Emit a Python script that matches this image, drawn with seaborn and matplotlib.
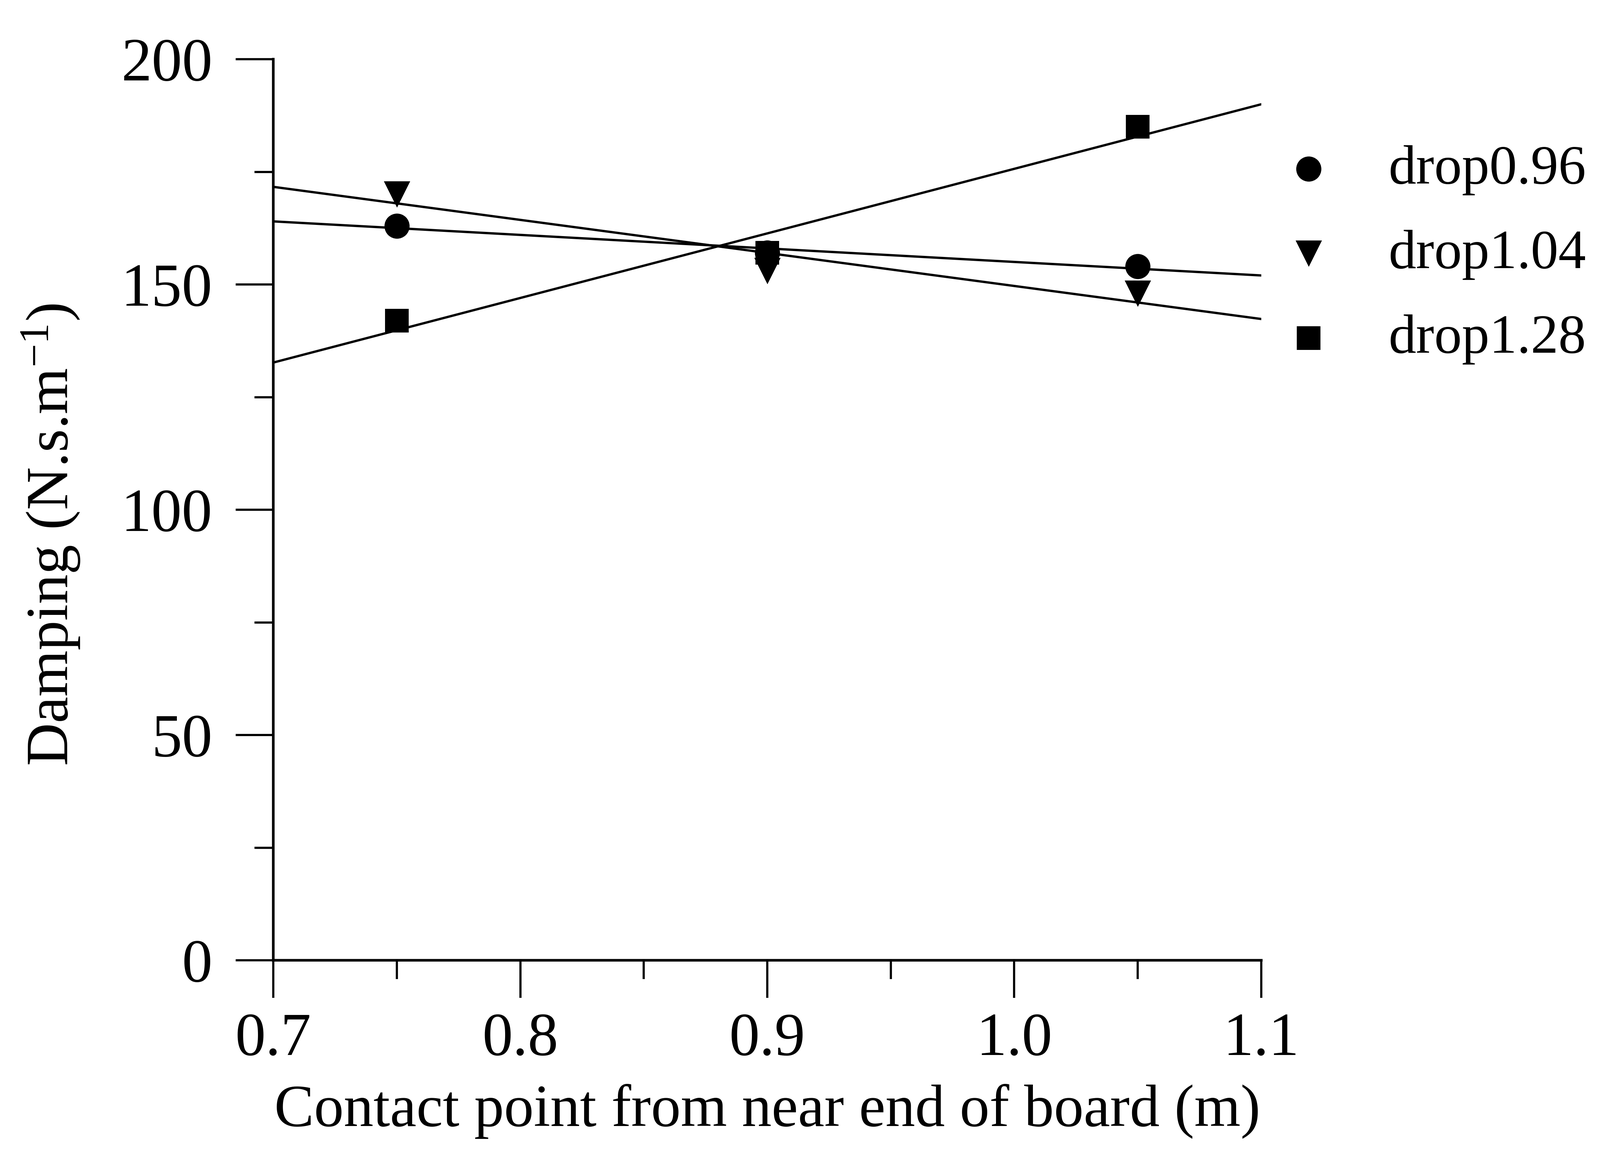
import matplotlib
matplotlib.use("Agg")
import matplotlib.pyplot as plt
import seaborn as sns
import numpy as np
from matplotlib.ticker import MultipleLocator, FormatStrFormatter

# ---- data ----
contact_points = [0.75, 0.90, 1.05]
drop096 = [163, 157, 154]
drop104 = [170, 153, 148]
drop128 = [142, 157, 185]
series_names = ["drop0.96", "drop1.04", "drop1.28"]
series_values = [drop096, drop104, drop128]
series_markers = ["o", "v", "s"]
series_sizes = [300, 330, 260]
x_ticks = [0.7, 0.8, 0.9, 1.0, 1.1]
y_ticks = [0, 50, 100, 150, 200]

sns.set_theme(style="ticks")
plt.rcParams["font.family"] = ["Liberation Serif", "DejaVu Serif"]
plt.rcParams["mathtext.default"] = "regular"
plt.rcParams["text.color"] = "black"

fig = plt.figure(figsize=(4596 / 300, 3323 / 300), dpi=300)
ax = fig.add_axes([785 / 4596, 1 - 2758 / 3323, (3623 - 785) / 4596, (2758 - 170) / 3323])
ax.set_xlim(0.7, 1.1)
ax.set_ylim(0, 200)

for name, vals, mk, sz in zip(series_names, series_values, series_markers, series_sizes):
    sns.regplot(x=np.array(contact_points), y=np.array(vals, dtype=float), ax=ax,
                ci=None, truncate=False, color="black", marker=mk, label=name,
                scatter_kws={"s": sz, "linewidths": 0, "alpha": 1, "zorder": 3},
                line_kws={"lw": 1.6, "zorder": 2})

ax.set_xlim(0.7, 1.1)
ax.set_ylim(0, 200)
ax.set_xticks(x_ticks)
ax.set_yticks(y_ticks)
ax.xaxis.set_major_formatter(FormatStrFormatter("%.1f"))
ax.xaxis.set_minor_locator(MultipleLocator(0.05))
ax.yaxis.set_minor_locator(MultipleLocator(25))
ax.tick_params(axis="both", which="major", direction="out", length=26, width=1.5,
               labelsize=42, color="black", labelcolor="black")
ax.tick_params(axis="both", which="minor", direction="out", length=13, width=1.5, color="black")
ax.tick_params(axis="y", which="major", pad=16)
ax.tick_params(axis="x", which="major", pad=10)

for s in ["top", "right"]:
    ax.spines[s].set_visible(False)
for s in ["left", "bottom"]:
    ax.spines[s].set_linewidth(1.8)
    ax.spines[s].set_color("black")

ax.set_xlabel("Contact point from near end of board (m)", fontsize=41, labelpad=11, color="black")
ax.set_ylabel("Damping (N.s.m$^{-1}$)", fontsize=41, color="black")
ax.yaxis.set_label_coords(-0.194, 0.472)

leg = ax.legend(loc="upper left", bbox_to_anchor=(1.02, 0.905), frameon=False,
                fontsize=38, handlelength=1.0, handletextpad=0.95, labelspacing=0.62,
                borderaxespad=0, borderpad=0, markerscale=1.0, labelcolor="black")

fig.savefig("out.png", dpi=300)
